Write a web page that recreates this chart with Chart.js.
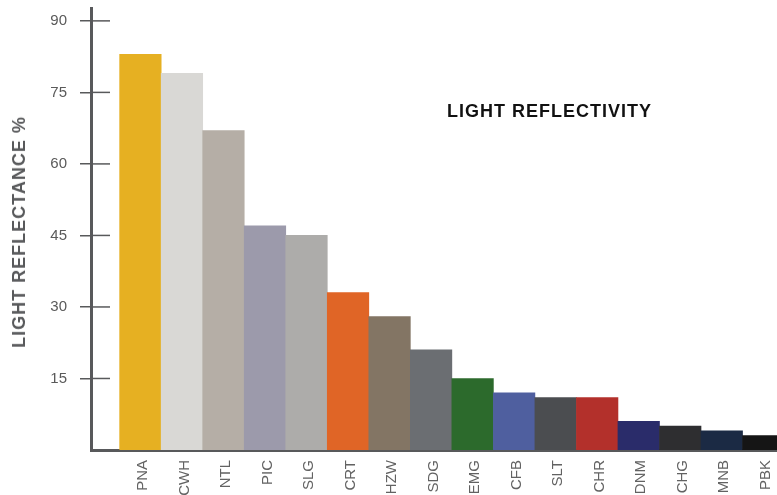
<!DOCTYPE html>
<html>
<head>
<meta charset="utf-8">
<script src="https://cdn.jsdelivr.net/npm/chart.js@4/dist/chart.umd.min.js"></script>
<style>
  html, body { margin: 0; padding: 0; background: #fff; }
  #wrap { position: relative; width: 777px; height: 495px; overflow: hidden; }
  .ttl { position: absolute; font-family: "Liberation Sans", Arial, sans-serif; font-weight: bold;
         font-size: 18px; line-height: 18px; letter-spacing: 1px; white-space: nowrap; }
  #chartTitle { left: 447px; top: 101.7px; color: #111; }
  #yTitle { left: 18.5px; top: 231.5px; color: #58595b; transform: translate(-50%, -50%) rotate(-90deg); }
</style>
</head>
<body>
<div id="wrap">
  <canvas id="c"></canvas>
  <div class="ttl" id="chartTitle">LIGHT REFLECTIVITY</div>
  <div class="ttl" id="yTitle">LIGHT REFLECTANCE %</div>
</div>
<script>
/* felt colour codes and their light reflectance */
const codes = ['PNA','CWH','NTL','PIC','SLG','CRT','HZW','SDG','EMG','CFB','SLT','CHR','DNM','CHG','MNB','PBK'];
const reflectance = [83, 79, 67, 47, 45, 33, 28, 21, 15, 12, 11, 11, 6, 5, 4, 3];
const feltColors = ['#e6b022','#d9d8d5','#b5aea6','#9c9aab','#adacaa','#e06526','#837564','#6b6e72',
                    '#2c6a2c','#4f5f9f','#4b4d50','#b3302b','#2a2c6a','#2e2e30','#1b2a44','#151515'];
const yTicks = [15, 30, 45, 60, 75, 90];

const axisGrey = '#58595b';
const font = { family: '"Liberation Sans", Arial, sans-serif', size: 15 };

/* tick marks also poke into the plot area on the y axis */
const innerTicks = {
  id: 'innerTicks',
  afterDraw(chart) {
    const y = chart.scales.y, ctx = chart.ctx, l = chart.chartArea.left;
    ctx.save();
    ctx.strokeStyle = axisGrey;
    ctx.lineWidth = 1.5;
    y.ticks.forEach(t => {
      const py = y.getPixelForValue(t.value);
      ctx.beginPath(); ctx.moveTo(l, py); ctx.lineTo(l + 19, py); ctx.stroke();
    });
    ctx.restore();
  }
};

new Chart(document.getElementById('c'), {
  type: 'bar',
  data: {
    datasets: [{
      data: codes.map((c, i) => ({ x: i, y: reflectance[i] })),
      backgroundColor: feltColors,
      borderWidth: 0,
      barPercentage: 1,
      categoryPercentage: 1
    }]
  },
  options: {
    responsive: true,
    maintainAspectRatio: false,
    animation: false,
    layout: { padding: { top: 8, left: 0, right: 0, bottom: 0 } },
    plugins: { legend: { display: false }, tooltip: { enabled: false } },
    scales: {
      x: {
        type: 'linear',
        offset: false,
        min: -1.19, max: 15.33,
        afterBuildTicks: s => { s.ticks = codes.map((c, i) => ({ value: i })); },
        afterFit: s => { s.height = 45; s.paddingLeft = 0; s.paddingRight = 0; },
        grid: { display: false, drawTicks: false },
        border: { width: 3, color: axisGrey },
        ticks: {
          autoSkip: false, minRotation: 90, maxRotation: 90, padding: 10, labelOffset: 2.5,
          color: '#626262', font,
          callback: v => codes[v] ?? ''
        }
      },
      y: {
        min: 0, max: 92.7,
        afterBuildTicks: s => { s.ticks = yTicks.map(v => ({ value: v })); },
        afterFit: s => { s.width = 91; s.paddingTop = 0; s.paddingBottom = 0; },
        grid: { drawOnChartArea: false, tickLength: 11, color: axisGrey, lineWidth: 1.5 },
        border: { width: 3, color: axisGrey },
        ticks: { color: '#5a5a5a', font, padding: 13 }
      }
    }
  },
  plugins: [innerTicks]
});
</script>
</body>
</html>
